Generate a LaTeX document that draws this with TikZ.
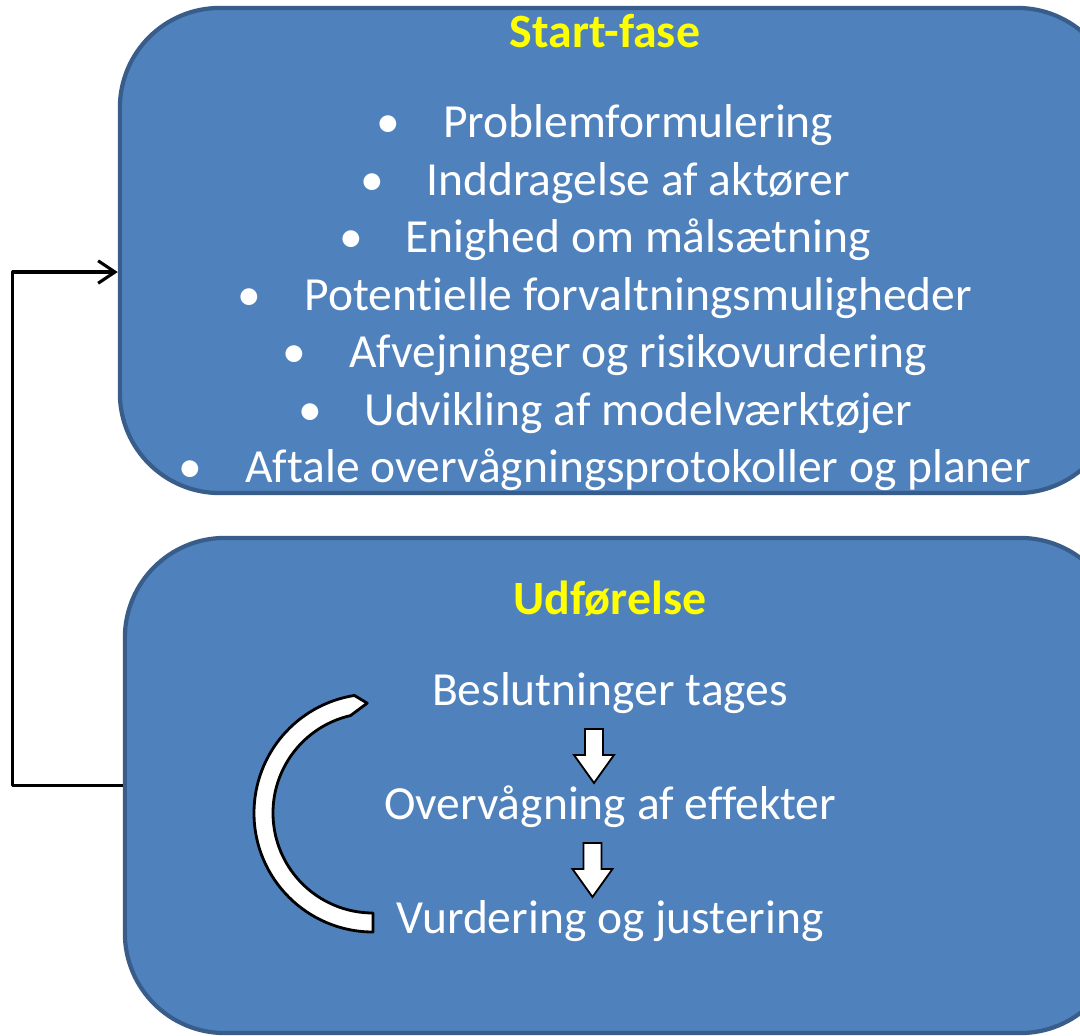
\documentclass[tikz,border=0pt]{standalone}
\usepackage{fontspec}
\setmainfont{Carlito}[Ligatures=NoCommon]
\usetikzlibrary{arrows.meta}
\definecolor{boxblue}{HTML}{4F81BD}
\definecolor{boxedge}{HTML}{385D8A}
\definecolor{titelgul}{HTML}{FFFF00}
\tikzset{
	fase/.style={draw=boxedge,line width=3pt,fill=boxblue,rounded corners=71pt,inner sep=0pt},
	titel/.style={anchor=base,text=titelgul,font=\fontsize{34}{40}\selectfont\bfseries},
	punkt/.style={anchor=base,text=white,font=\fontsize{33.8}{40}\selectfont},
	blokpil/.style={draw=black,line width=1.3pt,fill=white,line join=miter},
	forbind/.style={draw=black,line width=2.2pt,-{Straight Barb[length=12pt,width=16pt]}}
}
\begin{document}
\begin{tikzpicture}[x=0.025cm,y=-0.025cm,line join=round]
	\useasboundingbox (0,0) rectangle (1080,1036);
	\clip (0,0) rectangle (1080,1036);
	% de to faser
	\node[fase,minimum width=24.925cm,minimum height=12.125cm] (start) at (618.5,250.5) {};
	\node[fase,minimum width=24.875cm,minimum height=12.375cm] (udf) at (622.5,785.5) {};
	% start-fase
	\node[titel] (starttitel) at (605,48) {Start-fase};
	\foreach \txt [count=\i] in {Problemformulering,Inddragelse af aktører,Enighed om målsætning,Potentielle forvaltningsmuligheder,Afvejninger og risikovurdering,Udvikling af modelværktøjer,Aftale overvågningsprotokoller og planer}
		\node[punkt] (p\i) at (605,{138+57.5*(\i-1)}) {\textbullet\hspace{0.9em}\txt};
	% udfoerelse
	\node[titel] (udftitel) at (610,615) {Udførelse};
	\node[punkt] (beslut) at (610,705) {Beslutninger tages};
	\node[punkt] (overv) at (610,819) {Overvågning af effekter};
	\node[punkt] (vurd) at (610,933) {Vurdering og justering};
	\foreach \x/\t in {594/729,592.5/843}
		\draw[blokpil] (\x-9,\t) -- (\x+9,\t) -- (\x+9,\t+26) -- (\x+20,\t+26) -- (\x,\t+54)
			-- (\x-20,\t+26) -- (\x-9,\t+26) -- cycle;
	% cirkelpil
	\coordinate (cyc) at (373,813);
	\draw[black,line width=2pt,fill=white] ([shift={(cyc)}]90:119) arc[start angle=90,end angle=261,radius=119]
		-- ([shift={(cyc)}]267:110) -- ([shift={(cyc)}]257:100) arc[start angle=257,end angle=90,radius=100] -- cycle;
	% tilbage til start
	\coordinate (ind) at ([yshift=-15.3pt]start.west);
	\draw[forbind] (udf.west) -- ++(-110,0) |- (ind);
\end{tikzpicture}
\end{document}
